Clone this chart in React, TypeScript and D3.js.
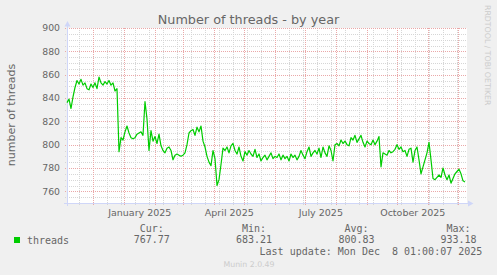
import React from 'react';
import * as d3 from 'd3';

const W = 497;
const H = 275;

const chartTitle = 'Number of threads - by year';
const yAxisTitle = 'number of threads';
const watermark = 'RRDTOOL / TOBI OETIKER';
const footer = 'Munin 2.0.49';
const lastUpdate = 'Last update: Mon Dec  8 01:00:07 2025';

const yTicks = [760, 780, 800, 820, 840, 860, 880, 900];
const monthLabels = ['January 2025', 'April 2025', 'July 2025', 'October 2025'];
const monthLabelStarts = ['2025-01-01', '2025-04-01', '2025-07-01', '2025-10-01'];

const seriesName = 'threads';
const statLabels = ['Cur:', 'Min:', 'Avg:', 'Max:'];
const statValues = ['767.77', '683.21', '800.83', '933.18'];

const rangeStart = '2024-11-04T17:00:00Z';
const rangeDays = 400;
const sampleStepDays = 2;

// one sample every 2 days, starting at rangeStart
const threads = [
  836, 839, 831, 841, 849, 855, 852, 856, 851, 853, 848, 847, 852, 849, 853, 848, 858, 853, 851, 854, 852, 855, 851, 853, 846, 848,
  794, 806, 804, 811, 816, 810, 806, 805, 806, 809, 810, 811, 808, 837, 822, 795, 812, 803, 807, 801, 809, 799, 795, 793, 797, 798,
  795, 787, 791, 792, 791, 790, 791, 793, 800, 810, 812, 813, 808, 815, 811,
  816, 803, 798, 790, 785, 782, 795, 788, 765, 770, 783, 797, 795, 798, 793, 799, 801, 795, 792, 798, 790, 786, 794, 791, 795, 792,
  790, 796, 789, 792, 786, 789, 791, 787, 790, 793, 788, 790, 789, 792, 787, 791, 788, 790, 786, 792, 789, 791, 787, 790, 795, 791,
  788, 794, 798, 790, 793, 795, 792, 797, 789, 798, 793, 790, 799, 795,
  786, 800, 801, 799, 804, 801, 803, 800, 799, 806, 804, 808, 802, 805, 808, 802, 798, 803, 801, 800, 804, 800, 803, 807, 781, 793,
  792, 791, 795, 793, 794, 796, 800, 796, 798, 794, 795, 790, 796, 797, 785, 795, 798, 787, 775, 781, 787, 793, 802, 787, 771, 770,
  772, 774, 772, 780, 774, 770, 774, 767, 771, 775, 777, 779, 775, 769, 768,
];

const DAY = 864e5;
const PLOT = { left: 67, right: 467, top: 28, bottom: 203 };
const FONT = '"DejaVu Sans", sans-serif';
const MONO = '"DejaVu Sans Mono", monospace';
const TEXT = '#666666';
const MINOR = '#d6d6d6';
const MAJOR = '#eaa8a8';
const AXIS = '#CFD6F8';
const LINE = '#00CC00';

export default function App() {
  const t0 = new Date(rangeStart);
  const t1 = new Date(t0.getTime() + rangeDays * DAY);
  const x = d3.scaleUtc().domain([t0, t1]).range([PLOT.left, PLOT.right]);
  const y = d3.scaleLinear().domain([750, 900]).range([PLOT.bottom, PLOT.top]);

  const data = threads.map((v, i) => ({ date: new Date(t0.getTime() + i * sampleStepDays * DAY), v }));
  const line = d3
    .line<{ date: Date; v: number }>()
    .x((d) => x(d.date))
    .y((d) => y(d.v));

  const px = (v: number) => Math.round(v) + 0.5;

  const minorH = d3.range(755, 900, 5).filter((v) => v % 20 !== 0);
  const months = d3.utcMonth.range(new Date('2024-12-01T00:00:00Z'), t1);
  const monthPx = new Set(months.map((d) => Math.round(x(d))));
  const minorV = d3
    .range(0, 40)
    .map((k) => d3.utcDay.offset(new Date('2024-11-17T00:00:00Z'), 14 * k))
    .filter((d) => d < t1 && !monthPx.has(Math.round(x(d))));

  const statX = [151.7, 254, 356.5, 458.5];

  return (
    <svg width={W} height={H} style={{ position: 'absolute', left: 0, top: 0 }} xmlns="http://www.w3.org/2000/svg">
      <rect x={0} y={0} width={W} height={H} fill="#F0F0F0" />
      <rect x={PLOT.left} y={PLOT.top} width={PLOT.right - PLOT.left} height={PLOT.bottom - PLOT.top} fill="#FFFFFF" />

      {/* minor grid */}
      <g stroke={MINOR} strokeWidth={1} strokeDasharray="1 1">
        {minorH.map((v) => (
          <line key={'mh' + v} x1={PLOT.left - 2} x2={PLOT.right} y1={px(y(v))} y2={px(y(v))} />
        ))}
        {minorV.map((d, i) => (
          <line key={'mv' + i} x1={px(x(d))} x2={px(x(d))} y1={PLOT.top} y2={PLOT.bottom + 2} />
        ))}
      </g>
      {/* major grid */}
      <g stroke={MAJOR} strokeWidth={1} strokeDasharray="1 1">
        {yTicks.map((v) => (
          <line key={'Mh' + v} x1={PLOT.left - 2} x2={PLOT.right} y1={px(y(v))} y2={px(y(v))} />
        ))}
        {months.map((d, i) => (
          <line key={'Mv' + i} x1={px(x(d))} x2={px(x(d))} y1={PLOT.top} y2={PLOT.bottom + 2} />
        ))}
      </g>

      {/* axes */}
      <g stroke={AXIS} strokeWidth={1} shapeRendering="crispEdges">
        <line x1={PLOT.left + 0.5} x2={PLOT.left + 0.5} y1={PLOT.bottom + 3} y2={PLOT.top - 4} />
        <line x1={PLOT.left - 3} x2={PLOT.right + 2} y1={PLOT.bottom + 0.5} y2={PLOT.bottom + 0.5} />
      </g>
      <path d={`M${PLOT.left - 2.5},${PLOT.top - 1.5} L${PLOT.left + 0.5},${PLOT.top - 7} L${PLOT.left + 3.5},${PLOT.top - 1.5} Z`} fill={AXIS} />
      <path d={`M${PLOT.right + 1},${PLOT.bottom - 2.5} L${PLOT.right + 6.5},${PLOT.bottom + 0.5} L${PLOT.right + 1},${PLOT.bottom + 3.5} Z`} fill={AXIS} />

      {/* data line */}
      <path d={line(data) || ''} fill="none" stroke={LINE} strokeWidth={1.2} strokeLinejoin="round" />

      {/* y tick labels */}
      <g fontFamily={FONT} fontSize={9.3} fill={TEXT} textAnchor="end">
        {yTicks.map((v) => (
          <text key={'yt' + v} x={60} y={y(v)} dy="0.35em">
            {v}
          </text>
        ))}
      </g>
      {/* x labels */}
      <g fontFamily={FONT} fontSize={9.5} fill={TEXT} textAnchor="middle">
        {monthLabels.map((lab, i) => {
          const s = new Date(monthLabelStarts[i] + 'T00:00:00Z');
          const e = d3.utcMonth.offset(s, 1);
          const mid = (x(s) + x(e)) / 2;
          return (
            <text key={lab} x={mid} y={216}>
              {lab}
            </text>
          );
        })}
      </g>

      <text x={248.5} y={24} fontFamily={FONT} fontSize={12.8} fill={TEXT} textAnchor="middle">
        {chartTitle}
      </text>
      <text transform="translate(15,115) rotate(-90)" fontFamily={FONT} fontSize={11} fill={TEXT} textAnchor="middle">
        {yAxisTitle}
      </text>
      <text transform="translate(485,5) rotate(90)" fontFamily={FONT} fontSize={7.8} fill="#cccccc">
        {watermark}
      </text>

      {/* legend */}
      <rect x={14} y={237} width={6} height={6} fill={LINE} />
      <g fontFamily={MONO} fontSize={10} fill={TEXT}>
        <text x={27} y={243.5}>{seriesName}</text>
        {statLabels.map((s, i) => (
          <text key={s} x={statX[i]} y={231.5} textAnchor="middle">
            {s}
          </text>
        ))}
        {statValues.map((s, i) => (
          <text key={'v' + i} x={statX[i]} y={243} textAnchor="middle">
            {s}
          </text>
        ))}
        <text x={482.3} y={255} textAnchor="end" style={{ whiteSpace: 'pre' }}>
          {lastUpdate}
        </text>
      </g>
      <text x={249} y={266.5} fontFamily={FONT} fontSize={7.8} fill="#cccccc" textAnchor="middle">
        {footer}
      </text>
    </svg>
  );
}
